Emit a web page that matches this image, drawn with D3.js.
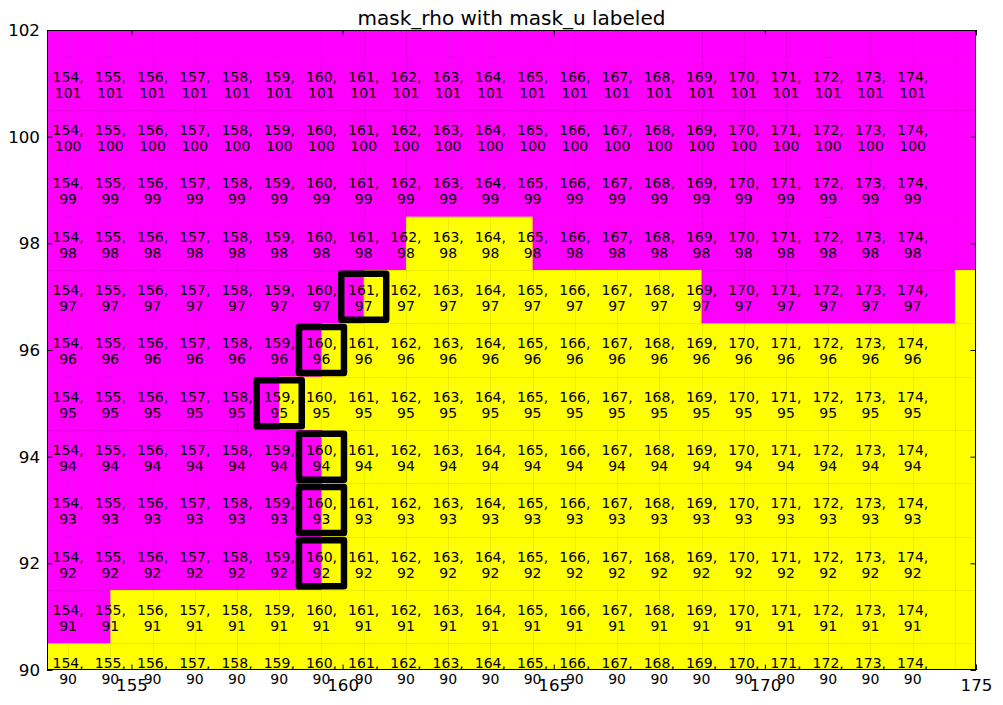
<!DOCTYPE html>
<html>
<head>
<meta charset="utf-8">
<script src="https://cdn.jsdelivr.net/npm/d3@7"></script>
<style>
  html, body { margin: 0; padding: 0; background: #fff; }
  svg { display: block; font-family: "DejaVu Sans", sans-serif; }
</style>
</head>
<body>
<svg id="chart" width="1003" height="705"></svg>
<script>
// ---- data ----
const cellLons = [153,154,155,156,157,158,159,160,161,162,163,164,165,166,167,168,169,170,171,172,173,174,175];
const cellLats = [102,101,100,99,98,97,96,95,94,93,92,91,90];
// mask_rho (0 = magenta / land, 1 = yellow / water), one row per lat in cellLats, one value per lon in cellLons
const maskRho = [
  [0,0,0,0,0,0,0,0,0,0,0,0,0,0,0,0,0,0,0,0,0,0,0],
  [0,0,0,0,0,0,0,0,0,0,0,0,0,0,0,0,0,0,0,0,0,0,0],
  [0,0,0,0,0,0,0,0,0,0,0,0,0,0,0,0,0,0,0,0,0,0,0],
  [0,0,0,0,0,0,0,0,0,0,0,0,0,0,0,0,0,0,0,0,0,0,0],
  [0,0,0,0,0,0,0,0,0,1,1,1,0,0,0,0,0,0,0,0,0,0,0],
  [0,0,0,0,0,0,0,0,1,1,1,1,1,1,1,1,0,0,0,0,0,0,1],
  [0,0,0,0,0,0,0,1,1,1,1,1,1,1,1,1,1,1,1,1,1,1,1],
  [0,0,0,0,0,0,1,1,1,1,1,1,1,1,1,1,1,1,1,1,1,1,1],
  [0,0,0,0,0,0,0,1,1,1,1,1,1,1,1,1,1,1,1,1,1,1,1],
  [0,0,0,0,0,0,0,1,1,1,1,1,1,1,1,1,1,1,1,1,1,1,1],
  [0,0,0,0,0,0,0,1,1,1,1,1,1,1,1,1,1,1,1,1,1,1,1],
  [0,0,1,1,1,1,1,1,1,1,1,1,1,1,1,1,1,1,1,1,1,1,1],
  [1,1,1,1,1,1,1,1,1,1,1,1,1,1,1,1,1,1,1,1,1,1,1]
];
const labelLons = [154,155,156,157,158,159,160,161,162,163,164,165,166,167,168,169,170,171,172,173,174];
const labelLats = [101,100,99,98,97,96,95,94,93,92,91,90];
// mask_u points marked with squares [lon, lat]
const maskUPoints = [[161,97],[160,96],[159,95],[160,94],[160,93],[160,92]];
const xTicks = [155,160,165,170,175];
const yTicks = [90,92,94,96,98,100,102];
const xDomain = [153,175];
const yDomain = [90,102];
const title = "mask_rho with mask_u labeled";

// ---- layout ----
const svg = d3.select("#chart");
const L = 47, R = 976, T = 30, B = 670;
const x = d3.scaleLinear().domain(xDomain).range([L, R]);
const y = d3.scaleLinear().domain(yDomain).range([B, T]);
const color = v => v === 1 ? "#ffff00" : "#ff00ff";

svg.append("defs").append("clipPath").attr("id", "clip")
  .append("rect").attr("x", L).attr("y", T).attr("width", R - L).attr("height", B - T);

const cells = [];
cellLats.forEach((lat, r) => cellLons.forEach((lon, c) => cells.push({lon, lat, v: maskRho[r][c]})));

const gCells = svg.append("g").attr("clip-path", "url(#clip)");
gCells.selectAll("rect.cell").data(cells).enter().append("rect")
  .attr("class", "cell")
  .attr("x", d => x(d.lon - 0.5))
  .attr("y", d => y(d.lat + 0.5))
  .attr("width", d => x(d.lon + 0.5) - x(d.lon - 0.5) + 0.5)
  .attr("height", d => y(d.lat - 0.5) - y(d.lat + 0.5) + 0.5)
  .attr("fill", d => color(d.v));

// faint cell edges
const edgeX = cellLons.slice(0, -1).map(v => v + 0.5);
const edgeY = cellLats.slice(0, -1).map(v => v - 0.5);
gCells.selectAll("line.ex").data(edgeX).enter().append("line")
  .attr("x1", d => Math.round(x(d)) + 0.5).attr("x2", d => Math.round(x(d)) + 0.5)
  .attr("y1", T).attr("y2", B)
  .attr("stroke", "rgba(0,0,0,0.07)").attr("stroke-width", 1);
gCells.selectAll("line.ey").data(edgeY).enter().append("line")
  .attr("y1", d => Math.round(y(d)) + 0.5).attr("y2", d => Math.round(y(d)) + 0.5)
  .attr("x1", L).attr("x2", R)
  .attr("stroke", "rgba(0,0,0,0.07)").attr("stroke-width", 1);

// squares for mask_u
svg.append("g").selectAll("rect.sq").data(maskUPoints).enter().append("rect")
  .attr("x", d => x(d[0] - 0.5) - 22.5)
  .attr("y", d => y(d[1]) - 23)
  .attr("width", 45).attr("height", 46)
  .attr("fill", "none").attr("stroke", "#000").attr("stroke-width", 6.5)
  .attr("stroke-linejoin", "round");

// labels
const labels = [];
labelLats.forEach(lat => labelLons.forEach(lon => labels.push({lon, lat})));
const gLab = svg.append("g").attr("font-size", "14px").attr("fill", "#000").attr("text-anchor", "middle");
const lt = gLab.selectAll("text").data(labels).enter().append("text")
  .attr("x", d => x(d.lon - 0.5))
  .attr("y", d => y(d.lat));
lt.append("tspan").attr("x", d => x(d.lon - 0.5)).attr("dy", -1.6).text(d => d.lon + ",");
lt.append("tspan").attr("x", d => x(d.lon - 0.5)).attr("dy", 16).text(d => d.lat);

// frame
svg.append("rect").attr("x", L + 0.5).attr("y", T + 0.5)
  .attr("width", R - L - 1).attr("height", B - T - 1)
  .attr("fill", "none").attr("stroke", "#000").attr("stroke-width", 1);

// axes
const tickLen = 5.5;
const fs = "16.7px";
const gx = svg.append("g").attr("transform", `translate(0,${B})`)
  .call(d3.axisBottom(x).tickValues(xTicks).tickFormat(d3.format("d")).tickSizeInner(-tickLen).tickSizeOuter(0).tickPadding(9));
const gxTop = svg.append("g").attr("transform", `translate(0,${T})`)
  .call(d3.axisTop(x).tickValues(xTicks).tickFormat("").tickSizeInner(-tickLen).tickSizeOuter(0));
const gy = svg.append("g").attr("transform", `translate(${L},0)`)
  .call(d3.axisLeft(y).tickValues(yTicks).tickFormat(d3.format("d")).tickSizeInner(-tickLen).tickSizeOuter(0).tickPadding(7));
const gyR = svg.append("g").attr("transform", `translate(${R},0)`)
  .call(d3.axisRight(y).tickValues(yTicks).tickFormat("").tickSizeInner(-tickLen).tickSizeOuter(0));
[gx, gxTop, gy, gyR].forEach(g => {
  g.select(".domain").remove();
  g.selectAll("line").attr("stroke", "#000").attr("stroke-width", 1);
  g.selectAll("text").attr("font-size", fs).attr("font-family", "DejaVu Sans, sans-serif").attr("fill", "#000");
});

// title
svg.append("text").attr("x", (L + R) / 2).attr("y", 25)
  .attr("text-anchor", "middle").attr("font-size", "20px").attr("fill", "#000")
  .text(title);
</script>
</body>
</html>
